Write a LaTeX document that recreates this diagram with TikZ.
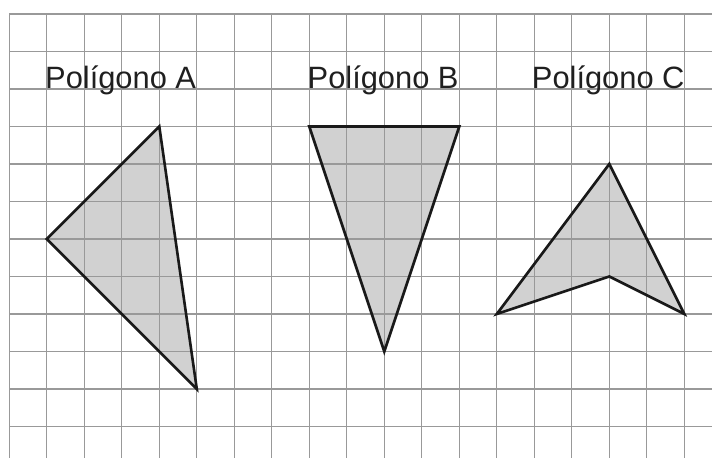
\documentclass[tikz,border=0pt]{standalone}
\usepackage{fontspec}
\setmainfont{Liberation Sans}
\begin{document}
\begin{tikzpicture}[x=1cm,y=-1cm,
  gridline/.style={draw=black!40, line width=0.9pt},
  polyfill/.style={fill=black!18},
  polyedge/.style={draw=black!90, line width=2pt, line join=miter},
  lbl/.style={anchor=base west, inner sep=0pt, font=\fontsize{23.4}{28}\selectfont, text=black!88}]
\useasboundingbox (-0.248,-0.373) rectangle (18.739,11.84);
% fills
\fill[polyfill] (1,6) -- (4,3) -- (5,10) -- cycle;
\fill[polyfill] (8,3) -- (12,3) -- (10,9) -- cycle;
\fill[polyfill] (13,8) -- (16,4) -- (18,8) -- (16,7) -- cycle;
% grid
\foreach \i in {0,...,18} \draw[gridline] (\i,0) -- (\i,11.84);
\foreach \j in {0,...,11} \draw[gridline] (0,\j) -- (18.739,\j);
% outlines
\coordinate (a1) at (1,6); \coordinate (a2) at (4,3); \coordinate (a3) at (5,10);
\coordinate (b1) at (8,3); \coordinate (b2) at (12,3); \coordinate (b3) at (10,9);
\coordinate (c1) at (13,8); \coordinate (c2) at (16,4); \coordinate (c3) at (18,8); \coordinate (c4) at (16,7);
\draw[polyedge] (a1) -- (a2) -- (a3) -- cycle;
\draw[polyedge] (b1) -- (b2) -- (b3) -- cycle;
\draw[polyedge] (c1) -- (c2) -- (c3) -- (c4) -- cycle;
% labels
\node[lbl] (la) at (0.95,2) {Polígono A};
\node[lbl] (lb) at (7.95,2) {Polígono B};
\node[lbl] (lc) at (13.93,2) {Polígono C};
\end{tikzpicture}
\end{document}
